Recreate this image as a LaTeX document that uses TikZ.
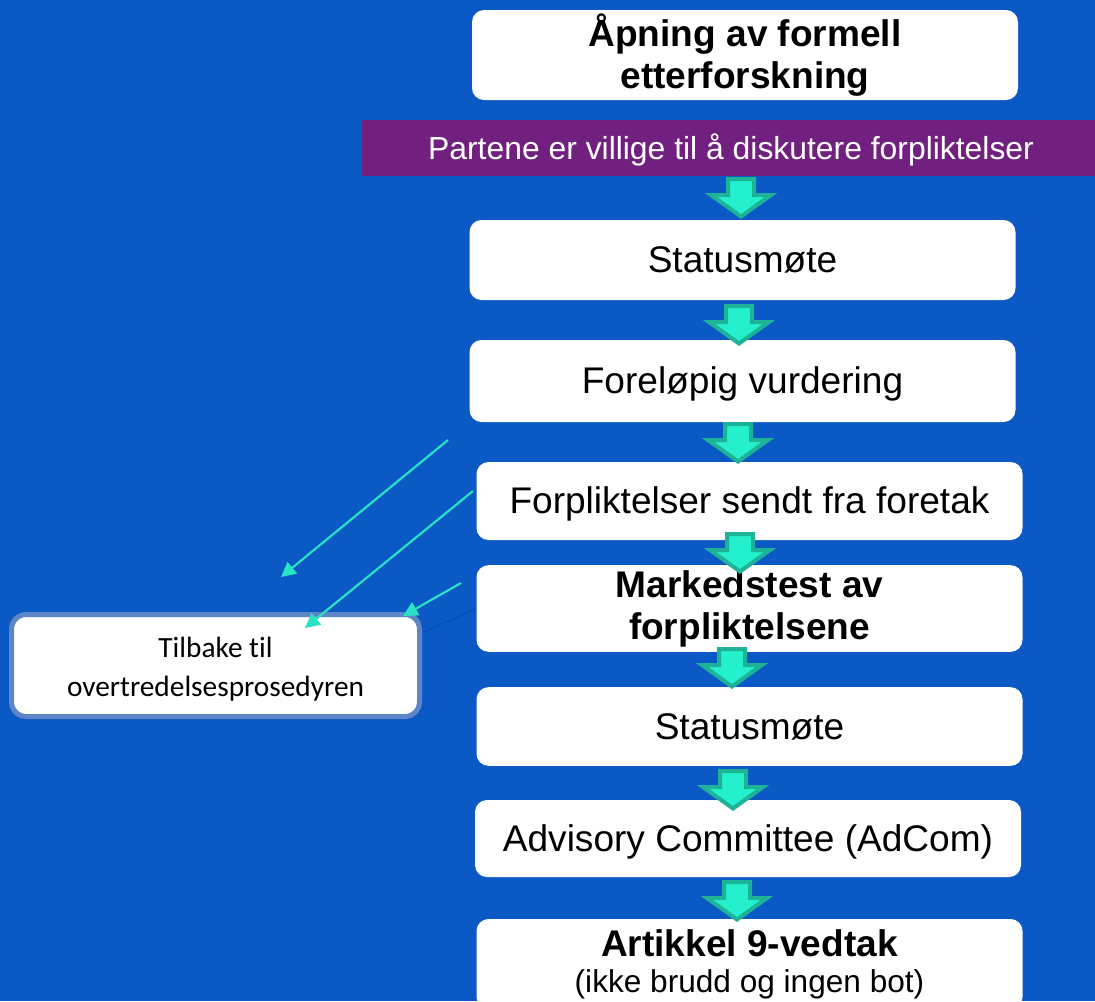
\documentclass[tikz,border=0pt]{standalone}
\usepackage{fontspec}
\setmainfont{Liberation Sans}
\newfontfamily\calibriFont[Ligatures=NoCommon]{Carlito}
\usetikzlibrary{arrows.meta, calc, positioning}
\definecolor{bgBlue}{RGB}{11,89,196}
\definecolor{bannerPurple}{RGB}{114,32,128}
\definecolor{arrowFill}{RGB}{37,240,206}
\definecolor{arrowEdge}{RGB}{28,179,150}
\definecolor{backLine}{RGB}{40,228,196}
\definecolor{backBorder}{RGB}{92,134,198}
\definecolor{faintLine}{RGB}{8,78,178}
\tikzset{
    stepBox/.style={rectangle, rounded corners=9pt, fill=white, text=black, inner sep=0pt, minimum width=409.5pt, align=center, font=\fontsize{27.8}{31.5}\selectfont},
    oneLine/.style={text height=25.2pt, text depth=5.9pt},
    boldText/.style={font=\fontsize{27.8}{31.5}\selectfont\bfseries},
    bannerBox/.style={rectangle, fill=bannerPurple, text=white, inner sep=0pt, minimum width=553.5pt, minimum height=42pt, text height=21.6pt, text depth=5.1pt, font=\fontsize{23.9}{28}\selectfont},
    backBox/.style={rectangle, rounded corners=11pt, fill=white, draw=backBorder, line width=3.75pt, inner sep=0pt, minimum width=306pt, minimum height=76.5pt, text height=45.8pt, text depth=0pt, align=center, font=\calibriFont\fontsize{22}{29}\selectfont},
    flowArr/.style={fill=arrowFill, draw=arrowEdge, line width=3pt, line join=miter},
    backEdge/.style={draw=backLine, line width=1.6pt, -{Triangle[length=11pt, width=11pt]}},
    faintEdge/.style={draw=faintLine, line width=0.8pt},
}
% block arrow: centre x, top y
\newcommand{\flowArrow}[2]{
    \draw[flowArr] (#1-13,#2+2) -- (#1+13,#2+2) -- (#1+13,#2+18) -- (#1+30,#2+18)
        -- (#1,#2+39.5) -- (#1-30,#2+18) -- (#1-13,#2+18) -- cycle;
}

\begin{document}
\begin{tikzpicture}[x=0.75pt, y=-0.75pt]

    \useasboundingbox (0,0) rectangle (1095,1001);
    \clip (0,0) rectangle (1095,1001);
    \fill[bgBlue] (0,0) rectangle (1095,1001);

    \node[stepBox, boldText, minimum height=67.5pt] (open) at (745,55) {Åpning av formell\\etterforskning};
    \node[bannerBox] (talks) at (731,148) {Partene er villige til å diskutere forpliktelser};
    \node[stepBox, oneLine, minimum height=60pt] (status1) at (742.5,260) {Statusmøte};
    \node[stepBox, oneLine, minimum height=61.5pt] (prelim) at (742.5,381) {Foreløpig vurdering};
    \node[stepBox, oneLine, minimum height=58.5pt] (offer) at (749.5,501) {Forpliktelser sendt fra foretak};
    \node[stepBox, boldText, minimum height=65pt] (market) at (749.5,608.5) {Markedstest av\\forpliktelsene};
    \node[stepBox, oneLine, minimum height=59pt] (status2) at (749.5,726.5) {Statusmøte};
    \node[stepBox, oneLine, minimum height=57.75pt] (adcom) at (748,838.5) {Advisory Committee (AdCom)};
    \node[stepBox, minimum height=67.5pt, font=\fontsize{27.8}{27}\selectfont] (decision) at (749.5,964)
        {\textbf{Artikkel 9-vedtak}\\{\fontsize{23.7}{27}\selectfont(ikke brudd og ingen bot)}};
    \node[backBox] (back) at (215.5,665.5) {Tilbake til\\overtredelsesprosedyren};

    \flowArrow{741}{177}
    \flowArrow{739}{304}
    \flowArrow{738}{422}
    \flowArrow{740}{532}
    \flowArrow{732}{647}
    \flowArrow{733}{769}
    \flowArrow{737}{880}

    \coordinate (s1) at (448,440);
    \coordinate (t1) at (281,577);
    \coordinate (s2) at (473,491);
    \coordinate (t2) at (305,628);
    \coordinate (s3) at (461,583);
    \coordinate (t3) at (403,616);
    \coordinate (f1) at (424,632);

    \draw[faintEdge] (f1) -- (market.west);
    \draw[backEdge] (s1) -- (t1);
    \draw[backEdge] (s2) -- (t2);
    \draw[backEdge] (s3) -- (t3);

\end{tikzpicture}
\end{document}
